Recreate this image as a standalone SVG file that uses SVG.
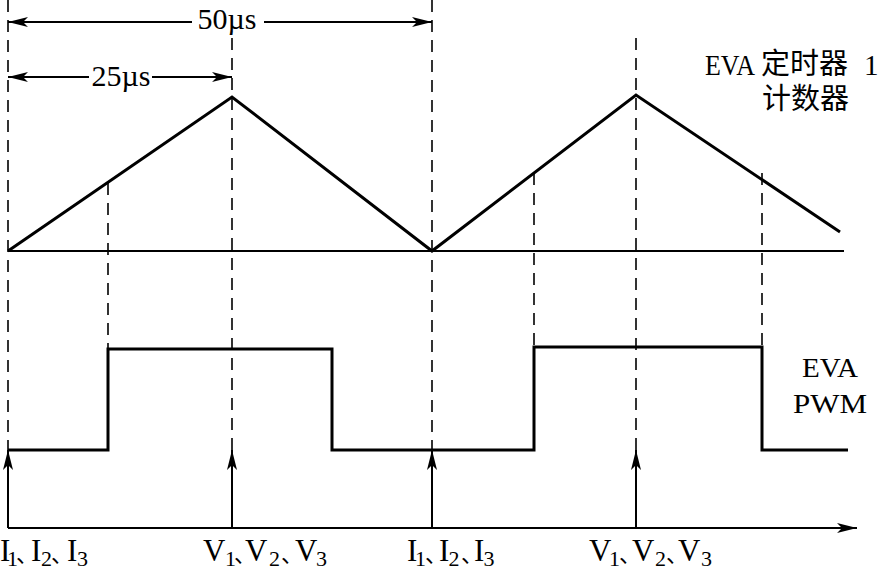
<svg xmlns="http://www.w3.org/2000/svg" width="884" height="571" viewBox="0 0 884 571">
<style>
.t{font-family:"Liberation Serif","Times New Roman","DejaVu Serif",serif;fill:#000}
.m{font-size:31px}
.sub{font-size:22px}
.cjk{font-family:"Noto Sans CJK SC","Noto Sans CJK JP",sans-serif;fill:#000}
.dun{font-size:22px}
.dash{stroke:#000;stroke-width:1.6;stroke-dasharray:12,8;fill:none}
.thick{stroke:#000;stroke-width:3;fill:none;stroke-linejoin:miter}
.thin{stroke:#000;stroke-width:2;fill:none}
</style>
<defs>
<marker id="ah" viewBox="0 0 20 10" refX="20" refY="5" markerWidth="20" markerHeight="10" markerUnits="userSpaceOnUse" orient="auto-start-reverse">
<path d="M0,0 L20,5 L0,10 L5,5 Z" fill="#000"/>
</marker>
</defs>
<rect width="884" height="571" fill="#fff"/>
<g id="guides">
<line class="dash" x1="8" y1="0" x2="8" y2="450"/>
<line class="dash" x1="432" y1="0" x2="432" y2="450"/>
<line class="dash" x1="232" y1="38" x2="232" y2="450"/>
<line class="dash" x1="636" y1="38" x2="636" y2="450"/>
<line class="dash" x1="108" y1="183" x2="108" y2="349"/>
<line class="dash" x1="534" y1="173" x2="534" y2="347"/>
<line class="dash" x1="762" y1="173" x2="762" y2="347"/>
</g>
<g id="dimensions">
<line class="thin" x1="8" y1="22" x2="192" y2="22" marker-start="url(#ah)"/>
<line class="thin" x1="264" y1="22" x2="432" y2="22" marker-end="url(#ah)"/>
<text class="t" font-size="30" x="227" y="29" text-anchor="middle">50µs</text>
<line class="thin" x1="8" y1="77" x2="89" y2="77" marker-start="url(#ah)"/>
<line class="thin" x1="152" y1="77" x2="232" y2="77" marker-end="url(#ah)"/>
<text class="t" font-size="30" x="121" y="86" text-anchor="middle">25µs</text>
</g>
<g id="counter">
<line class="thin" x1="8" y1="251" x2="844" y2="251"/>
<polyline class="thick" points="8,251 232,97 432,251 636,95 840,232"/>
<text class="t" font-size="30" y="75"><tspan x="705" textLength="50" lengthAdjust="spacingAndGlyphs">EVA</tspan><tspan class="cjk" font-size="29" x="761" dy="-1">定时器</tspan><tspan x="864" dy="1" font-size="29">1</tspan></text>
<text class="cjk" font-size="29" x="762" y="109">计数器</text>
</g>
<g id="pwm">
<polyline class="thick" points="8,450 108,450 108,349 332,349 332,450 534,450 534,347 762,347 762,450 848,450"/>
<text class="t" font-size="27" x="802" y="377" textLength="56" lengthAdjust="spacingAndGlyphs">EVA</text>
<text class="t" font-size="27" x="793" y="413" textLength="74" lengthAdjust="spacingAndGlyphs">PWM</text>
</g>
<g id="connectors">
<line class="thin" x1="8" y1="528" x2="857" y2="528" marker-end="url(#ah)"/>
<line class="thin" x1="8" y1="528" x2="8" y2="450" marker-end="url(#ah)"/>
<line class="thin" x1="232" y1="528" x2="232" y2="450" marker-end="url(#ah)"/>
<line class="thin" x1="432" y1="528" x2="432" y2="450" marker-end="url(#ah)"/>
<line class="thin" x1="636" y1="528" x2="636" y2="450" marker-end="url(#ah)"/>
</g>
<g id="labels">
<text class="t m" y="561"><tspan x="0">I</tspan><tspan class="sub" x="7" dy="5">1</tspan><tspan class="cjk dun" x="16" dy="-4">、</tspan><tspan x="31" dy="-1">I</tspan><tspan class="sub" x="41" dy="5">2</tspan><tspan class="cjk dun" x="51" dy="-4">、</tspan><tspan x="67" dy="-1">I</tspan><tspan class="sub" x="77" dy="5">3</tspan></text>
<text class="t m" y="561"><tspan x="203">V</tspan><tspan class="sub" x="225" dy="5">1</tspan><tspan class="cjk dun" x="234" dy="-4">、</tspan><tspan x="245" dy="-1">V</tspan><tspan class="sub" x="269" dy="5">2</tspan><tspan class="cjk dun" x="281" dy="-4">、</tspan><tspan x="295" dy="-1">V</tspan><tspan class="sub" x="316" dy="5">3</tspan></text>
<text class="t m" y="561"><tspan x="407">I</tspan><tspan class="sub" x="415" dy="5">1</tspan><tspan class="cjk dun" x="425" dy="-4">、</tspan><tspan x="439" dy="-1">I</tspan><tspan class="sub" x="448.5" dy="5">2</tspan><tspan class="cjk dun" x="461" dy="-4">、</tspan><tspan x="474" dy="-1">I</tspan><tspan class="sub" x="483.5" dy="5">3</tspan></text>
<text class="t m" y="561"><tspan x="589">V</tspan><tspan class="sub" x="609" dy="5">1</tspan><tspan class="cjk dun" x="619" dy="-4">、</tspan><tspan x="632" dy="-1">V</tspan><tspan class="sub" x="655" dy="5">2</tspan><tspan class="cjk dun" x="666" dy="-4">、</tspan><tspan x="678" dy="-1">V</tspan><tspan class="sub" x="701" dy="5">3</tspan></text>
</g>
</svg>
